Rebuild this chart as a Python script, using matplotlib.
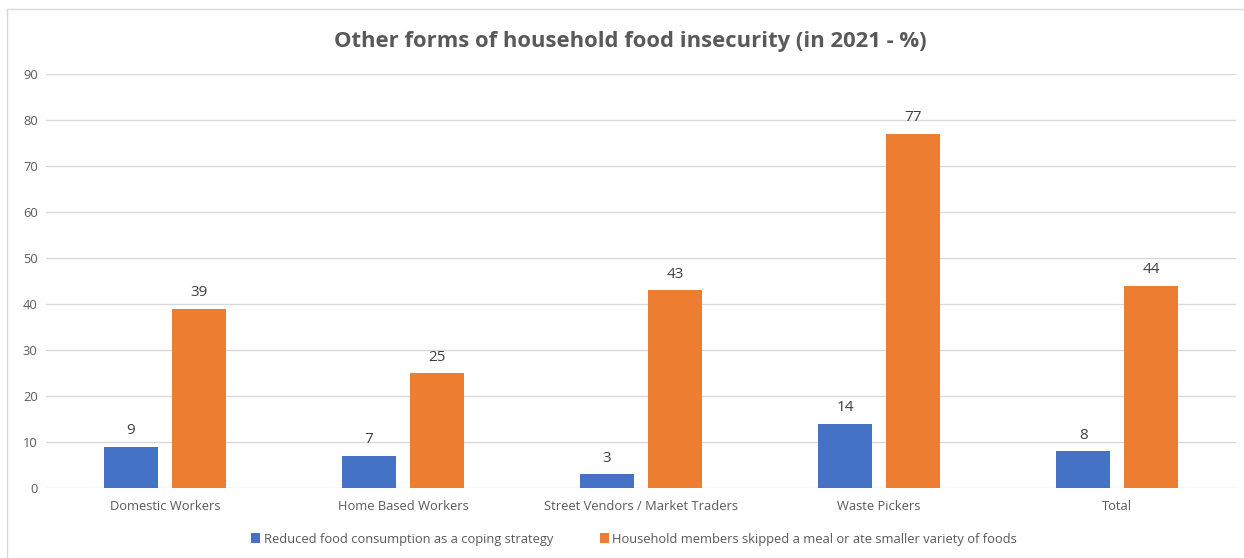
import matplotlib.pyplot as plt
import numpy as np
from matplotlib.lines import Line2D

# values
categories = ['Domestic Workers', 'Home Based Workers', 'Street Vendors / Market Traders',
              'Waste Pickers', 'Total']
reduced = [9, 7, 3, 14, 8]
skipped = [39, 25, 43, 77, 44]
series_names = ['Reduced food consumption as a coping strategy',
                'Household members skipped a meal or ate smaller variety of foods']

blue = '#4472c4'
orange = '#ed7d31'
grey = '#595959'

plt.rcParams['font.family'] = ['Open Sans', 'DejaVu Sans']

fig = plt.figure(figsize=(12.44, 5.58), dpi=100)
ax = fig.add_axes([46 / 1244, 1 - 488 / 558, (1236 - 46) / 1244, (488 - 74) / 558])

x = np.arange(len(categories))
w = 0.226
off = 0.1425
b1 = ax.bar(x - off, reduced, w, color=blue, label=series_names[0], zorder=3)
b2 = ax.bar(x + off, skipped, w, color=orange, label=series_names[1], zorder=3)

for bars in (b1, b2):
    for r in bars:
        ax.annotate(str(int(r.get_height())), (r.get_x() + r.get_width() / 2, r.get_height()),
                    xytext=(0, 6), textcoords='offset points', ha='center', va='bottom',
                    fontsize=11, color='#404040')

ax.set_xlim(-0.5, len(categories) - 0.5)
ax.set_ylim(0, 90)
ax.set_yticks(range(0, 91, 10))
ax.set_xticks(x)
ax.set_xticklabels(categories)
ax.tick_params(axis='both', length=0, labelsize=9.3, colors=grey)
ax.tick_params(axis='x', pad=9)
ax.tick_params(axis='y', pad=6)
ax.grid(axis='y', color='#d9d9d9', linewidth=1, zorder=0)
for s in ax.spines.values():
    s.set_visible(False)

fig.text(630 / 1244, 1 - 42 / 558, 'Other forms of household food insecurity (in 2021 - %)',
         ha='center', va='center', fontsize=15.8, fontweight='bold', color=grey)

fig.legend(handles=[b1, b2], labels=series_names, loc='center', ncol=2,
           bbox_to_anchor=(634 / 1244, 1 - 539 / 558), frameon=False, fontsize=9.3,
           handlelength=0.7, handleheight=0.7, handletextpad=0.3, columnspacing=3.6,
           labelcolor=grey)

# outer border of the chart
fig.add_artist(Line2D([7 / 1244, 1], [1 - 9 / 558, 1 - 9 / 558], color='#d9d9d9', lw=1))
fig.add_artist(Line2D([7 / 1244, 7 / 1244], [0, 1 - 9 / 558], color='#d9d9d9', lw=1))

fig.savefig('out.png', dpi=100, facecolor='white')
